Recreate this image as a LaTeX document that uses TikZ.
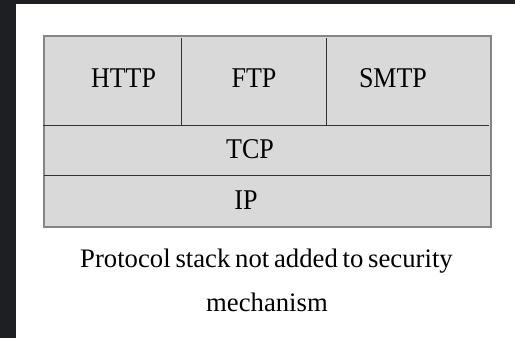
\documentclass[tikz,border=0pt]{standalone}
\usepackage{fontspec}
\usepackage{graphicx}
\setmainfont{Liberation Serif}
\definecolor{bgdark}{HTML}{1E1F22}
\newcommand{\tallbox}[1]{\scalebox{1}[1.1]{#1}}
\newcommand{\capfont}{\fontsize{26.7}{30}\selectfont\spaceskip=0.18em\relax}
\begin{document}
\begin{tikzpicture}[x=1pt,y=-1pt,
  lbl/.style={inner sep=0pt, font=\fontsize{26}{30}\selectfont},
  captxt/.style={inner sep=0pt, anchor=base, font=\capfont},
  divider/.style={draw=black!80, line width=1pt},
  frame/.style={draw=black!48, line width=2pt, fill=black!15}]
% page and dark surround
\fill[white] (0,0) rectangle (515,338);
\useasboundingbox (0,0) rectangle (515,338);
\fill[bgdark] (0,0) rectangle (16,338);
\fill[bgdark] (0,0) rectangle (515,4);
% protocol stack frame
\node[frame, minimum width=447pt, minimum height=191pt, inner sep=0pt] (stack) at (267.5,131) {};
% layer separators
\coordinate (appL) at (43,125);
\coordinate (appR) at (489,125);
\coordinate (tcpL) at (44,175.5);
\coordinate (tcpR) at (490,175.5);
\coordinate (d1t) at (181,37.5);
\coordinate (d1b) at (181,125);
\coordinate (d2t) at (326,37.5);
\coordinate (d2b) at (326,125);
\draw[divider] (appL) -- (appR);
\draw[divider] (tcpL) -- (tcpR);
\draw[divider] (d1t) -- (d1b);
\draw[divider] (d2t) -- (d2b);
% labels
\node[lbl] (http) at (123.5,78.5) {\tallbox{HTTP}};
\node[lbl] (ftp) at (254,78.5) {\tallbox{FTP}};
\node[lbl] (smtp) at (393,78.5) {\tallbox{SMTP}};
\node[lbl] (tcp) at (250,149.5) {\tallbox{TCP}};
\node[lbl] (ip) at (246,200.5) {\tallbox{IP}};
% caption
\node[captxt] (cap1) at (266.5,267) {Protocol stack not added to security};
\node[captxt] (cap2) at (267,311.7) {mechanism};
\end{tikzpicture}
\end{document}
